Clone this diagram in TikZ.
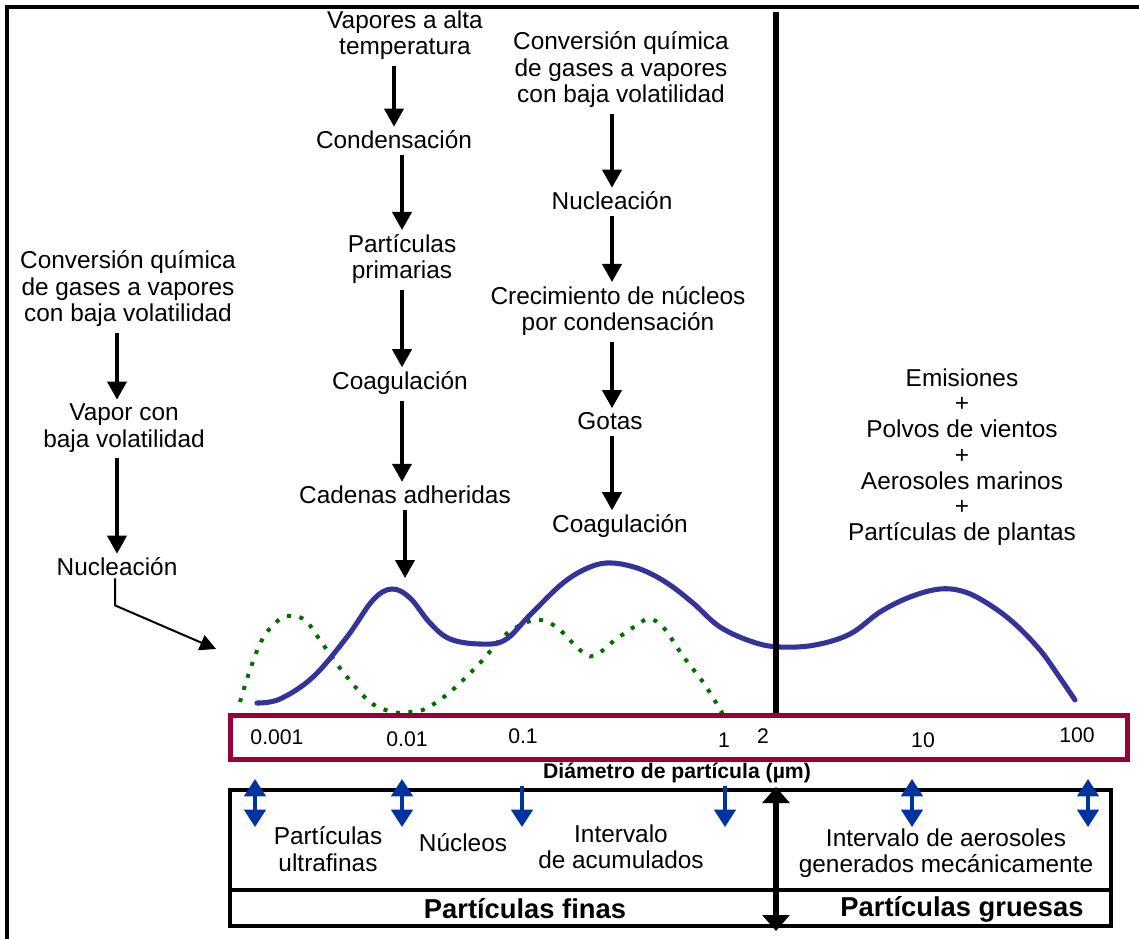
\documentclass[tikz,border=0pt]{standalone}
\usepackage{fontspec}
\setmainfont{Liberation Sans}
\usetikzlibrary{arrows.meta}
\definecolor{axisred}{RGB}{153,0,51}
\definecolor{curveblue}{RGB}{51,51,153}
\definecolor{dotgreen}{RGB}{0,110,0}
\definecolor{markblue}{RGB}{0,51,160}

\begin{document}
\begin{tikzpicture}[x=0.75pt,y=-0.75pt,
  every node/.style={align=center,inner sep=1.5pt,font=\fontsize{18.3}{19.9}\selectfont},
  tick/.style={font=\fontsize{15.9}{18}\selectfont},
  bigtext/.style={font=\bfseries\fontsize{20.5}{22}\selectfont},
  flow/.style={-{Triangle[width=14.5pt,length=13.5pt]},line width=2.3pt,shorten <=3pt,shorten >=1.5pt},
  pointer/.style={-{Triangle[width=12pt,length=12pt]},line width=1.5pt},
  marker/.style={markblue,line width=2.6pt},
  markertip/.tip={Triangle[width=16pt,length=13pt]}]
\useasboundingbox (0,0) rectangle (1139,939);
\draw[line width=2.5pt] (7,945) -- (7,7) -- (1145,7);

\node (a1) at (128,289) {Conversión química\\de gases a vapores\\con baja volatilidad};
\node (a2) at (124,428) {Vapor con\\baja volatilidad};
\node (a3) at (117,567) {Nucleación};
\coordinate (nucl) at (216,649);

\node (b1) at (405,35)  {Vapores a alta\\temperatura};
\node (b2) at (394,140) {Condensación};
\node (b3) at (402,259) {Partículas\\primarias};
\node (b4) at (400,383) {Coagulación};
\node (b5) at (405,495) {Cadenas adheridas};
\coordinate (peak) at (405,580);

\node (c1) at (621,70)  {Conversión química\\de gases a vapores\\con baja volatilidad};
\node (c2) at (612,201) {Nucleación};
\node (c3) at (618,311) {Crecimiento de núcleos\\por condensación};
\node (c4) at (610,421) {Gotas};
\node (c5) at (620,526) {Coagulación};

\node[font=\fontsize{18.3}{19.3}\selectfont] (d1) at (962,457) {Emisiones\\+\\Polvos de vientos\\+\\Aerosoles marinos\\+\\Partículas de plantas};

\draw[flow] (a3 |- a1.south) -- (a3 |- a2.north);
\draw[flow] (a3 |- a2.south) -- (a3.north);
\draw[pointer] ([xshift=-1.5pt]a3.south) -- ++(0,27) -- (nucl);
\draw[flow] (b2 |- b1.south) -- (b2.north);
\draw[flow] (b3 |- b2.south) -- (b3.north);
\draw[flow] (b3.south) -- (b3 |- b4.north);
\draw[flow] (b3 |- b4.south) -- (b3 |- b5.north);
\draw[flow] (b5.south) -- (peak);
\draw[flow] (c2 |- c1.south) -- (c2.north);
\draw[flow] (c2.south) -- (c2 |- c3.north);
\draw[flow] (c2 |- c3.south) -- (c2 |- c4.north);
\draw[flow] (c2 |- c4.south) -- (c2 |- c5.north);

\draw[dotgreen,line width=3pt,dash pattern=on 3pt off 6.5pt]
  plot[smooth,tension=0.6] coordinates {(240,702) (250,670) (263,638) (280,619) (293,616) (306,621)
  (320,640) (343,672) (370,702) (393,712) (408,712) (425,709) (450,692) (480,663) (505,635)
  (530,621) (545,621) (560,630) (580,650) (594,656) (615,640) (637,625) (649,619) (663,627)
  (683,656) (705,685) (725,718)};
\draw[curveblue,line width=3.8pt,line cap=round]
  plot[smooth,tension=0.6] coordinates {(257,703) (280,699) (313,677) (347,637) (373,600) (392,589)
  (410,598) (430,623) (450,639) (480,644) (505,640) (530,615) (563,583) (590,567) (612,563)
  (640,569) (667,583) (693,603) (720,627) (753,642) (780,647) (815,645) (850,634) (880,612)
  (910,597) (940,589) (965,592) (990,605) (1015,624) (1040,650) (1058,675) (1075,700)};

\node[draw=axisred,line width=4pt,minimum width=672.5pt,minimum height=32.8pt,inner sep=0] (axis) at (679,737.5) {};
\node[tick] (t1) at (277,737) {0.001};
\node[tick] (t2) at (407,739) {0.01};
\node[tick] (t3) at (523,736) {0.1};
\node[tick] (t4) at (724,740) {1};
\node[tick] (t5) at (763,736) {2};
\node[tick] (t6) at (923,740) {10};
\node[tick] (t7) at (1077,735) {100};
\node[fill=white,inner sep=1pt,font=\bfseries\fontsize{15.9}{18}\selectfont] (diam) at (677,773) {Diámetro de partícula (µm)};

\coordinate (vtop) at (776,12);
\draw[line width=4.9pt] (vtop) -- (vtop |- axis.north);

\node[draw,line width=3pt,minimum width=660.75pt,minimum height=75pt,inner sep=0] (r1) at (670.5,840) {};
\node[draw,line width=3pt,minimum width=660.75pt,minimum height=27pt,inner sep=0] (r2) at (670.5,908) {};
\node (u1) at (328,849) {Partículas\\ultrafinas};
\node (u2) at (463,843) {Núcleos};
\node (u3) at (621,847) {Intervalo\\de acumulados};
\node (u4) at (946,853) {Intervalo de aerosoles\\generados mecánicamente};
\node[bigtext] (f1) at (525,909) {Partículas finas};
\node[bigtext] (f2) at (962,909) {Partículas gruesas};

\coordinate (dtop) at (776,787);
\coordinate (dbot) at (776,931);
\draw[line width=4.9pt,{Triangle[width=20pt,length=12pt]}-{Triangle[width=20pt,length=12pt]}] (dtop) -- (dbot);

\coordinate (m1a) at (255,779);
\coordinate (m1b) at (255,827);
\coordinate (m2a) at (402,779);
\coordinate (m2b) at (402,827);
\coordinate (m3a) at (522,786);
\coordinate (m3b) at (522,827);
\coordinate (m4a) at (725,786);
\coordinate (m4b) at (725,827);
\coordinate (m5a) at (912,779);
\coordinate (m5b) at (912,827);
\coordinate (m6a) at (1088,779);
\coordinate (m6b) at (1088,827);
\draw[marker,markertip-markertip] (m1a) -- (m1b);
\draw[marker,markertip-markertip] (m2a) -- (m2b);
\draw[marker,-markertip]          (m3a) -- (m3b);
\draw[marker,-markertip]          (m4a) -- (m4b);
\draw[marker,markertip-markertip] (m5a) -- (m5b);
\draw[marker,markertip-markertip] (m6a) -- (m6b);
\end{tikzpicture}
\end{document}
